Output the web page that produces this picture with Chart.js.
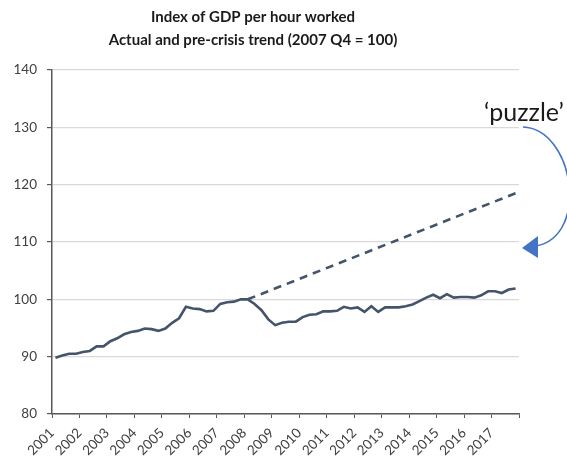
<!DOCTYPE html>
<html>
<head>
<meta charset="utf-8">
<script src="https://cdn.jsdelivr.net/npm/chart.js"></script>
<style>
  body { margin: 0; background: #fff; }
  #wrap { width: 567px; height: 458px; position: relative; }
</style>
</head>
<body>
<div id="wrap"><canvas id="gdpChart"></canvas></div>
<script>
// quarterly index, 2001 Q1 .. 2017 Q4
var years = [2001, 2002, 2003, 2004, 2005, 2006, 2007, 2008, 2009,
             2010, 2011, 2012, 2013, 2014, 2015, 2016, 2017];
var actual = [
  89.8, 90.2, 90.5, 90.5,   // 2001
  90.8, 91.0, 91.8, 91.8,   // 2002
  92.7, 93.2, 93.9, 94.3,   // 2003
  94.5, 94.9, 94.8, 94.5,   // 2004
  94.9, 95.9, 96.7, 98.7,   // 2005
  98.4, 98.3, 97.9, 98.0,   // 2006
  99.2, 99.5, 99.6, 100.0,  // 2007
  100.0, 99.2, 98.1, 96.5,  // 2008
  95.5, 95.9, 96.1, 96.1,   // 2009
  96.9, 97.3, 97.4, 97.9,   // 2010
  97.9, 98.0, 98.7, 98.4,   // 2011
  98.6, 97.8, 98.8, 97.8,   // 2012
  98.6, 98.6, 98.6, 98.8,   // 2013
  99.1, 99.7, 100.3, 100.8, // 2014
  100.2, 100.9, 100.3, 100.4, // 2015
  100.4, 100.3, 100.7, 101.4, // 2016
  101.4, 101.1, 101.7, 101.9  // 2017
];
// pre-crisis trend: start and end quarter
var trendQuarters = ['2008 Q1', '2017 Q4'];
var trendValues = [100, 118.5];
var yTicks = [80, 90, 100, 110, 120, 130, 140];

var lineColor = 'rgb(68, 84, 106)';

function quarterToX(label) {
  var p = label.split(' Q');
  return Number(p[0]) + (Number(p[1]) - 0.5) / 4;
}

var actualPoints = actual.map(function (v, i) {
  var yr = years[0] + Math.floor(i / 4);
  return { x: quarterToX(yr + ' Q' + (i % 4 + 1)), y: v };
});
var trendPoints = trendQuarters.map(function (q, i) {
  return { x: quarterToX(q), y: trendValues[i] };
});

var overlay = {
  id: 'overlay',
  afterDraw: function (chart) {
    var ctx = chart.ctx;
    ctx.save();
    // title
    ctx.fillStyle = '#1a1a1a';
    ctx.textAlign = 'center';
    ctx.textBaseline = 'middle';
    ctx.font = 'bold 15px Lato, "Open Sans", sans-serif';
    ctx.fillText('Index of GDP per hour worked', 253, 17);
    ctx.fillText('Actual and pre-crisis trend (2007 Q4 = 100)', 253, 40);
    // 'puzzle' label
    ctx.textAlign = 'left';
    ctx.textBaseline = 'alphabetic';
    ctx.font = '25px Lato, "Open Sans", sans-serif';
    ctx.fillText('\u2018puzzle\u2019', 484, 121);
    // curved arrow
    ctx.strokeStyle = '#4472c4';
    ctx.lineWidth = 1.6;
    ctx.beginPath();
    ctx.moveTo(523, 127);
    ctx.bezierCurveTo(574, 129, 590, 236, 536, 246);
    ctx.stroke();
    ctx.fillStyle = '#4472c4';
    ctx.beginPath();
    ctx.moveTo(522, 248);
    ctx.lineTo(538, 236);
    ctx.lineTo(538, 258);
    ctx.closePath();
    ctx.fill();
    ctx.restore();
  }
};

var ctx = document.getElementById('gdpChart').getContext('2d');
var myChart = new Chart(ctx, {
  type: 'line',
  data: {
    datasets: [{
      label: 'Actual',
      data: actualPoints,
      borderColor: lineColor,
      borderWidth: 2.6,
      pointRadius: 0,
      tension: 0,
      fill: false
    }, {
      label: 'Pre-crisis trend',
      data: trendPoints,
      borderColor: lineColor,
      borderWidth: 2.6,
      borderDash: [8, 6],
      pointRadius: 0,
      fill: false
    }]
  },
  options: {
    responsive: true,
    maintainAspectRatio: false,
    animation: false,
    layout: { padding: { top: 70, right: 48, left: 0, bottom: 0 } },
    plugins: {
      legend: { display: false },
      title: { display: false },
      tooltip: { enabled: false }
    },
    scales: {
      x: {
        type: 'linear',
        min: years[0],
        max: years[years.length - 1] + 1,
        afterBuildTicks: function (scale) {
          scale.ticks = years.concat([years[years.length - 1] + 1]).map(function (y) { return { value: y }; });
        },
        afterFit: function (scale) { scale.height = 44; },
        grid: {
          drawOnChartArea: false,
          drawTicks: true,
          tickLength: 4,
          tickColor: '#595959'
        },
        border: { color: '#595959', width: 1.5 },
        ticks: {
          minRotation: 45,
          maxRotation: 45,
          autoSkip: false,
          padding: 7,
          color: '#404040',
          font: { family: 'Lato, "Open Sans", sans-serif', size: 13.5 },
          callback: function (v) { return years.indexOf(v) >= 0 ? String(v) : ''; }
        }
      },
      y: {
        min: yTicks[0],
        max: yTicks[yTicks.length - 1],
        afterBuildTicks: function (scale) {
          scale.ticks = yTicks.map(function (v) { return { value: v }; });
        },
        afterFit: function (scale) { scale.width = 52; },
        grid: {
          color: '#d9d9d9',
          tickColor: '#595959',
          tickLength: 5,
          lineWidth: 1.2
        },
        border: { color: '#595959', width: 1.5 },
        ticks: {
          padding: 10,
          color: '#404040',
          font: { family: 'Lato, "Open Sans", sans-serif', size: 13.5 }
        }
      }
    }
  },
  plugins: [overlay]
});
</script>
</body>
</html>
